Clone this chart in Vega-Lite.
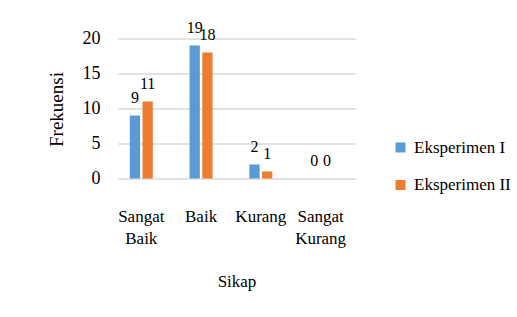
{
  "$schema": "https://vega.github.io/schema/vega-lite/v6.json",
  "width": 237,
  "height": 140,
  "autosize": "none",
  "padding": {"left": 118, "top": 38.5, "right": 162, "bottom": 138.5},
  "background": "white",
  "config": {
    "view": {"stroke": null},
    "font": "Liberation Serif",
    "axis": {"labelFont": "Liberation Serif", "titleFont": "Liberation Serif", "labelColor": "#000", "titleColor": "#000", "titleFontWeight": "normal"},
    "legend": {"labelFont": "Liberation Serif", "labelColor": "#000"}
  },
  "data": {
    "values": [
      {"kategori": "Sangat Baik", "kelompok": "Eksperimen I", "nilai": 9},
      {"kategori": "Sangat Baik", "kelompok": "Eksperimen II", "nilai": 11},
      {"kategori": "Baik", "kelompok": "Eksperimen I", "nilai": 19},
      {"kategori": "Baik", "kelompok": "Eksperimen II", "nilai": 18},
      {"kategori": "Kurang", "kelompok": "Eksperimen I", "nilai": 2},
      {"kategori": "Kurang", "kelompok": "Eksperimen II", "nilai": 1},
      {"kategori": "Sangat Kurang", "kelompok": "Eksperimen I", "nilai": 0},
      {"kategori": "Sangat Kurang", "kelompok": "Eksperimen II", "nilai": 0}
    ]
  },
  "encoding": {
    "x": {
      "field": "kategori", "type": "nominal", "sort": null,
      "scale": {"paddingInner": 0.615, "paddingOuter": 0.29, "align": 0.34},
      "axis": {
        "title": "Sikap", "titleFontSize": 17, "titleX": 118.5, "titleY": 107.5, "titleBaseline": "alphabetic",
        "labelAngle": 0, "labelFontSize": 17, "labelPadding": 30, "labelLineHeight": 21.5, "labelOverlap": false,
        "labelExpr": "split(datum.label, ' ')", "ticks": false, "domain": false, "grid": false
      }
    },
    "xOffset": {
      "field": "kelompok", "type": "nominal",
      "scale": {"paddingInner": 0.19, "paddingOuter": 0}
    },
    "y": {
      "field": "nilai", "type": "quantitative",
      "scale": {"domain": [0, 20], "nice": false},
      "axis": {
        "title": "Frekuensi", "titleFontSize": 19, "titleAngle": -90, "titleX": -56, "titleY": 70.5,
        "titleBaseline": "alphabetic", "titleAlign": "center",
        "values": [0, 5, 10, 15, 20], "labelFontSize": 18, "labelPadding": 18, "labelOverlap": false,
        "ticks": false, "domain": false, "grid": true, "gridColor": "#d9d9d9", "gridWidth": 1.5
      }
    }
  },
  "layer": [
    {
      "mark": {"type": "bar"},
      "encoding": {
        "color": {
          "field": "kelompok", "type": "nominal",
          "scale": {"domain": ["Eksperimen I", "Eksperimen II"], "range": ["#5B9BD5", "#ED7D31"]},
          "legend": {
            "title": null, "orient": "none", "legendX": 274, "legendY": 100.5, "padding": 0,
            "symbolType": "square", "symbolSize": 100, "symbolStrokeWidth": 0,
            "labelFontSize": 17, "labelOffset": 5, "rowPadding": 19.5
          }
        }
      }
    },
    {
      "mark": {"type": "text", "baseline": "alphabetic", "dy": -13, "fontSize": 16, "font": "Liberation Serif", "color": "#000"},
      "encoding": {
        "text": {"field": "nilai", "type": "quantitative"}
      }
    }
  ]
}
